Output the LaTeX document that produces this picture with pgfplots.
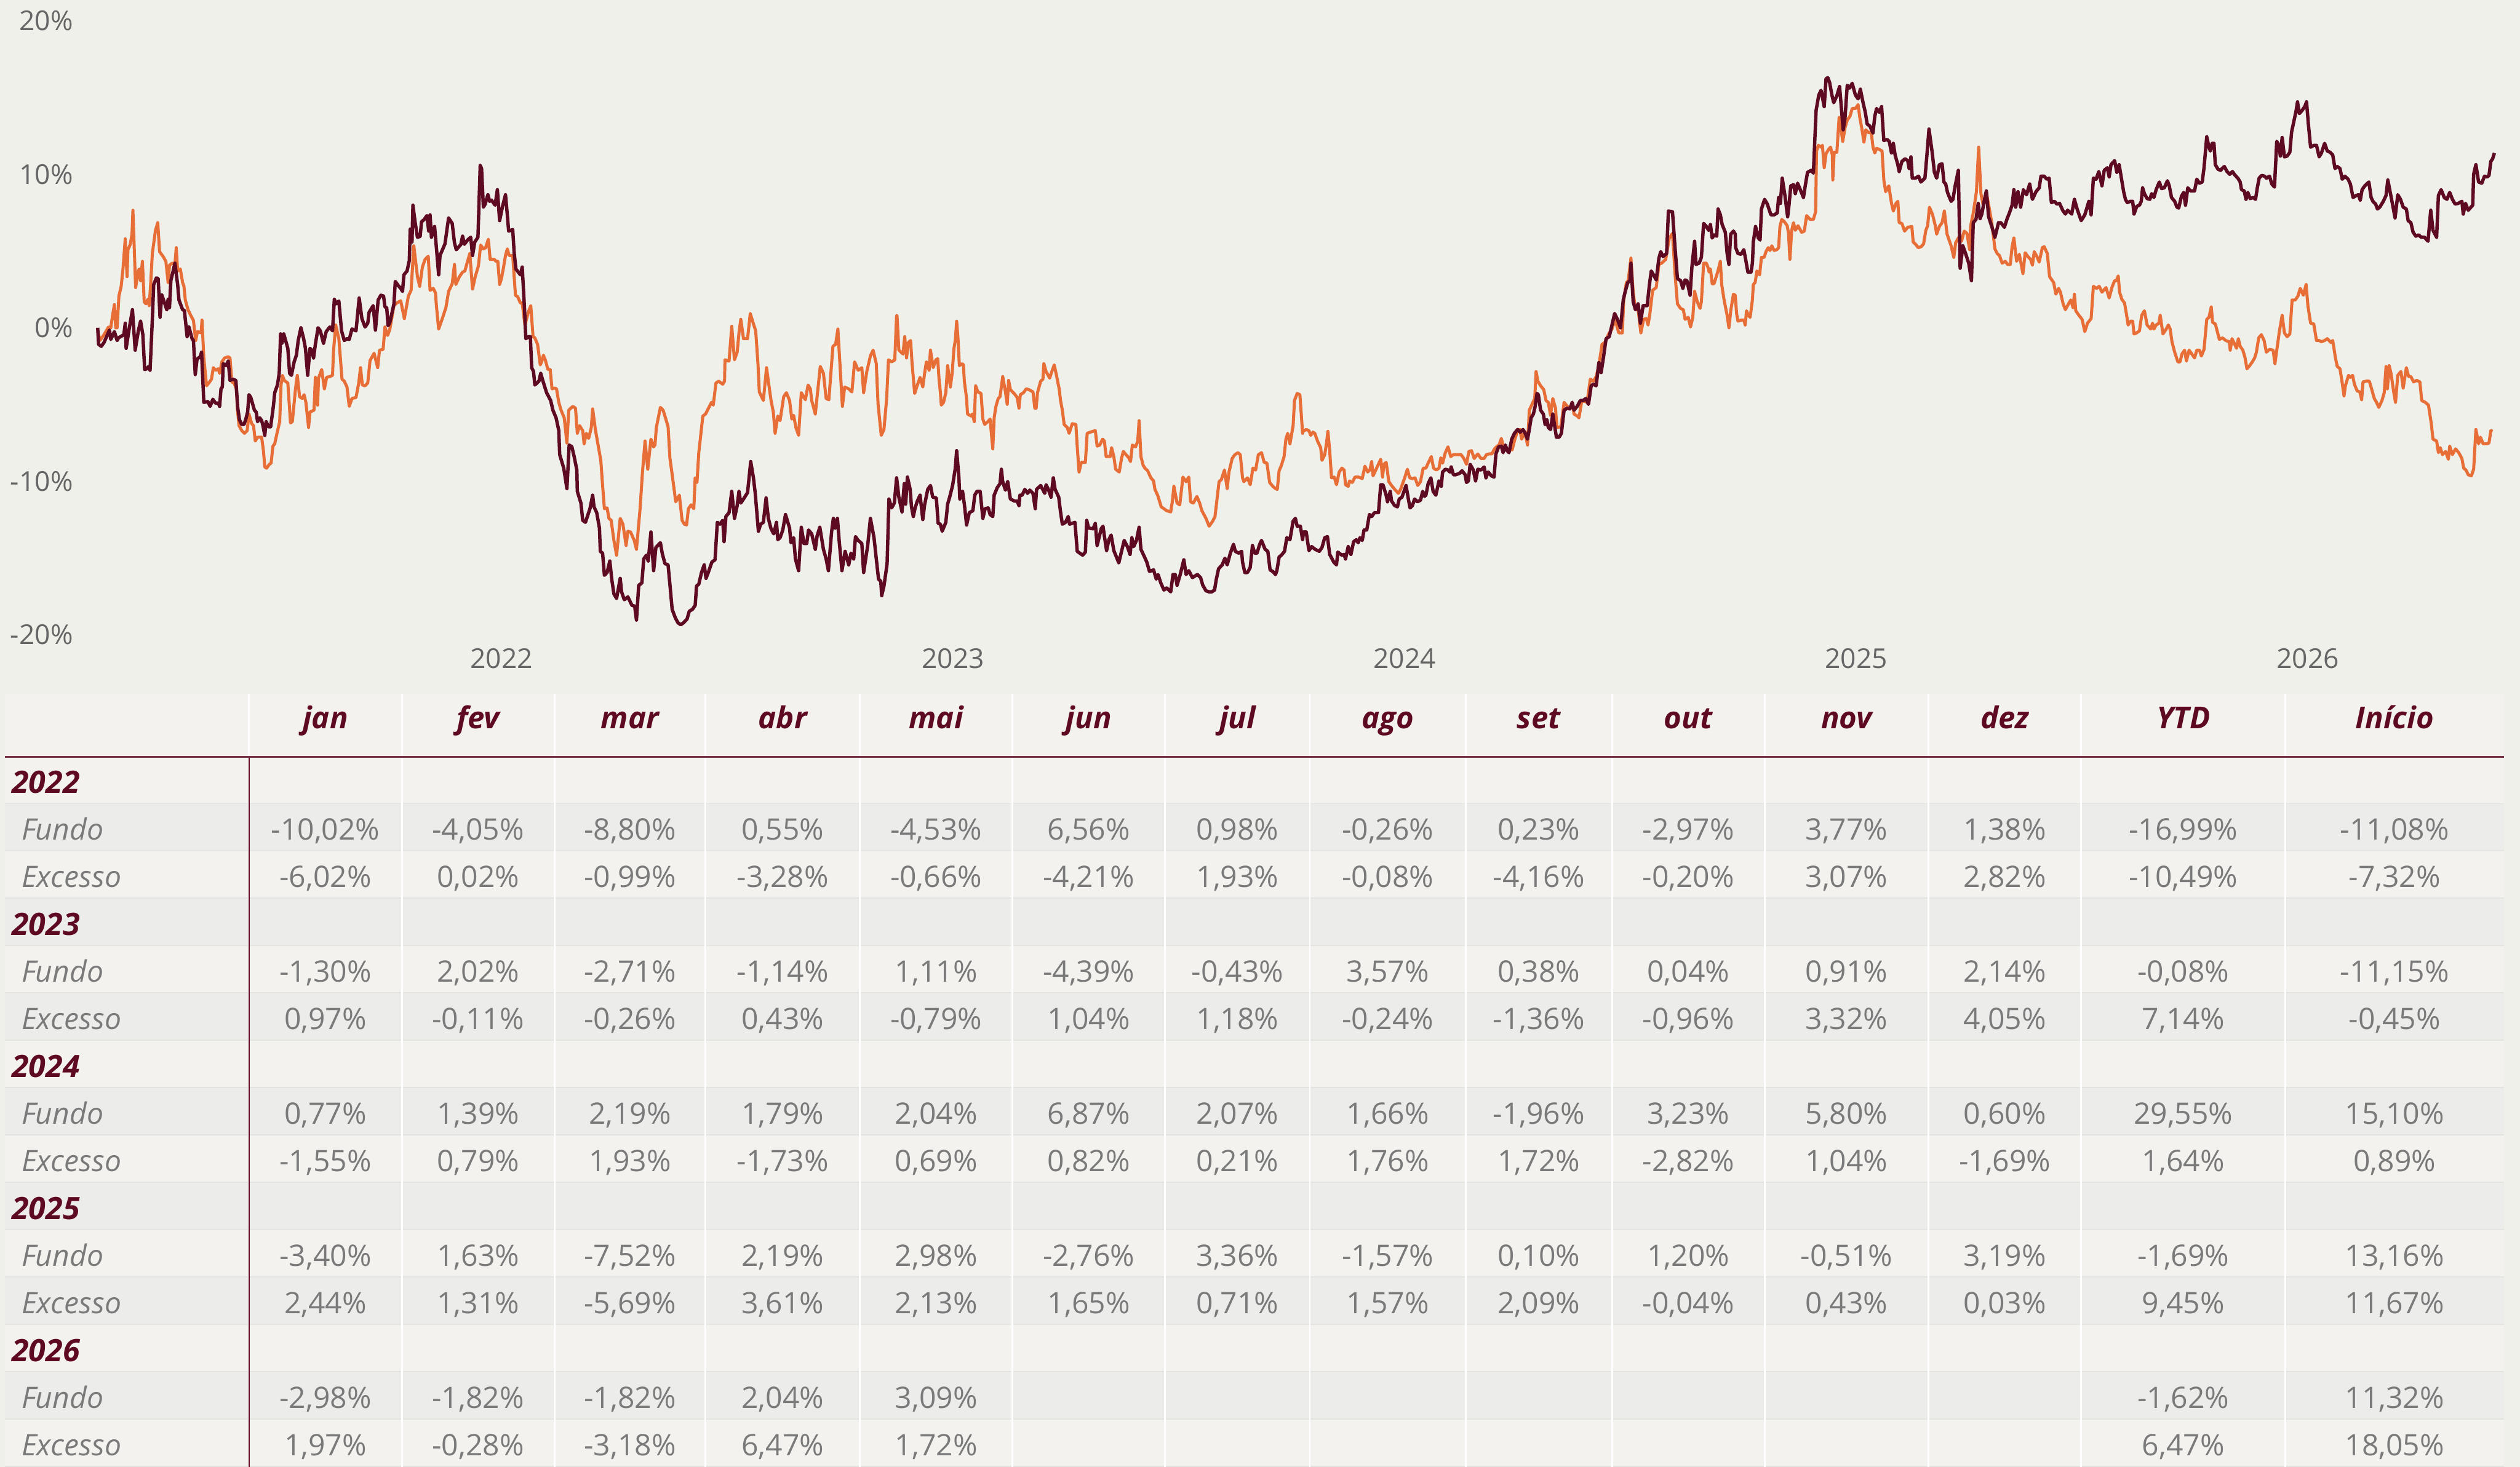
\documentclass[border=0pt]{standalone}
\usepackage{pgfplots}
\pgfplotsset{compat=1.18}
\usepackage{fontspec}
\setmainfont{Open Sans}
\definecolor{bg}{HTML}{F0F0EB}
\definecolor{lightrow}{HTML}{F3F2EE}
\definecolor{greyrow}{HTML}{ECECEB}
\definecolor{sepc}{HTML}{E3E3E0}
\definecolor{maroon}{HTML}{5E0A22}
\definecolor{orangeline}{HTML}{E86E38}
\definecolor{valgrey}{HTML}{7A7A7A}
\definecolor{tickgrey}{HTML}{666666}
\def\cols{{202.5,297.5,392,487,582.5,677.5,770,863.5,957.5,1050.5,1149,1247.5,1358.5,1490}}
\newcommand\datarow[3]{%
  \pgfmathsetmacro\yb{471+29.47*#1+14.73+7.5}%
  \node[lab] at (13,\yb) {#2};%
  \foreach \v [count=\c from 0] in {#3} {%
    \pgfmathsetmacro\xx{\cols[\c]}%
    \node[val] at (\xx,\yb) {\v};%
  }%
}
\newcommand\yearrow[2]{%
  \pgfmathsetmacro\yb{471+29.47*#1+14.73+7.8}%
  \node[yr] at (7,\yb) {#2};%
}
\begin{document}
\begin{tikzpicture}
\fill[bg] (0,0) rectangle (784pt,-456.5pt);
\begin{axis}[
  at={(23.93pt,-197.5pt)}, anchor=south west,
  scale only axis, width=757.3pt, height=191pt,
  xmin=2021.06, xmax=2026.45, ymin=-20, ymax=20,
  axis line style={draw=none}, tick style={draw=none},
  xtick={2022,2023,2024,2025,2026},
  xticklabels={2022,2023,2024,2025,2026},
  ytick={-20,-10,0,10,20},
  yticklabels={-20\%,-10\%,0\%,10\%,20\%},
  ticklabel style={font=\fontsize{8.5}{10}\selectfont, text=tickgrey},
  yticklabel style={xshift=2.3pt},
  xticklabel style={yshift=-0.8pt},
  grid=none,
]
\addplot[orangeline, line width=0.95pt, line join=round] coordinates {
(2021.106,-0.20)(2021.111,-0.83)(2021.120,-0.45)(2021.130,0.05)(2021.135,0.00)(2021.139,0.81)(2021.143,1.51)(2021.146,0.00)(2021.149,0.00)(2021.153,2.07)(2021.158,2.70)(2021.162,3.83)(2021.167,5.80)(2021.171,3.33)(2021.173,5.09)(2021.178,5.42)(2021.182,6.10)(2021.184,7.66)(2021.190,2.62)(2021.196,3.70)(2021.198,3.83)(2021.201,3.07)(2021.205,4.33)(2021.209,1.69)(2021.213,1.56)(2021.217,1.86)(2021.220,1.44)(2021.223,2.70)(2021.227,4.84)(2021.234,6.35)(2021.239,6.85)(2021.243,4.96)(2021.251,4.64)(2021.257,4.33)(2021.262,2.95)(2021.265,4.08)(2021.271,4.21)(2021.277,4.13)(2021.280,5.22)(2021.283,3.70)(2021.289,3.83)(2021.294,2.95)(2021.297,2.70)(2021.300,1.81)(2021.306,1.18)(2021.312,0.81)(2021.318,0.48)(2021.323,-0.83)(2021.327,-0.25)(2021.335,-0.33)(2021.337,0.50)(2021.341,-1.97)(2021.347,-3.78)(2021.352,-3.60)(2021.358,-3.35)(2021.362,-2.60)(2021.367,-2.77)(2021.373,-2.67)(2021.376,-2.97)(2021.381,-2.22)(2021.387,-1.97)(2021.395,-1.89)(2021.399,-1.97)(2021.403,-3.53)(2021.408,-3.60)(2021.413,-3.98)(2021.416,-5.49)(2021.419,-6.38)(2021.425,-6.70)(2021.431,-6.88)(2021.437,-6.70)(2021.441,-5.62)(2021.447,-6.25)(2021.451,-6.38)(2021.455,-7.38)(2021.460,-7.13)(2021.469,-7.13)(2021.473,-8.01)(2021.476,-9.07)(2021.480,-9.15)(2021.486,-8.90)(2021.490,-8.82)(2021.494,-7.71)(2021.498,-7.56)(2021.503,-6.88)(2021.509,-6.12)(2021.512,-3.73)(2021.515,-3.10)(2021.519,-3.43)(2021.527,-3.60)(2021.533,-6.20)(2021.537,-6.12)(2021.544,-3.98)(2021.548,-3.10)(2021.553,-4.49)(2021.559,-4.61)(2021.563,-4.36)(2021.567,-4.86)(2021.573,-6.50)(2021.576,-5.49)(2021.585,-5.37)(2021.588,-3.23)(2021.593,-5.04)(2021.595,-3.28)(2021.602,-2.72)(2021.608,-3.98)(2021.613,-3.23)(2021.620,-3.18)(2021.626,-3.10)(2021.628,-1.59)(2021.633,0.18)(2021.640,-0.71)(2021.647,-3.35)(2021.652,-3.48)(2021.658,-3.86)(2021.663,-5.12)(2021.669,-4.61)(2021.678,-4.54)(2021.684,-3.60)(2021.688,-2.60)(2021.692,-3.73)(2021.698,-3.78)(2021.704,-3.60)(2021.709,-2.14)(2021.718,-1.66)(2021.726,-2.60)(2021.730,-1.46)(2021.738,-1.41)(2021.742,0.05)(2021.748,-0.50)(2021.753,-0.08)(2021.762,1.44)(2021.768,1.61)(2021.777,1.76)(2021.785,0.60)(2021.794,2.07)(2021.800,2.44)(2021.806,5.34)(2021.814,3.33)(2021.819,2.70)(2021.825,3.96)(2021.831,4.46)(2021.838,4.66)(2021.842,2.44)(2021.849,2.57)(2021.854,2.27)(2021.856,1.44)(2021.861,-0.08)(2021.870,0.68)(2021.877,1.31)(2021.883,2.37)(2021.891,2.87)(2021.896,4.13)(2021.899,2.82)(2021.907,3.33)(2021.914,3.63)(2021.919,3.70)(2021.925,4.33)(2021.930,4.84)(2021.936,2.52)(2021.942,3.33)(2021.949,4.03)(2021.954,5.39)(2021.960,5.14)(2021.965,5.22)(2021.971,5.77)(2021.975,4.46)
(2021.977,4.46)(2021.984,4.46)(2021.988,4.33)(2021.992,4.33)(2021.996,2.82)(2022.000,3.20)(2022.004,3.83)(2022.009,4.71)(2022.013,5.14)(2022.017,4.71)(2022.025,4.71)(2022.031,2.12)(2022.036,2.02)(2022.042,1.61)(2022.046,1.61)(2022.052,0.18)(2022.060,1.06)(2022.065,1.44)(2022.070,-0.58)(2022.074,-0.66)(2022.080,-1.08)(2022.086,-2.42)(2022.089,-2.22)(2022.093,-1.79)(2022.097,-2.09)(2022.103,-2.72)(2022.108,-2.72)(2022.112,-3.98)(2022.118,-3.93)(2022.122,-3.98)(2022.127,-4.86)(2022.132,-5.37)(2022.139,-5.87)(2022.145,-7.51)(2022.149,-5.37)(2022.158,-5.12)(2022.164,-5.24)(2022.168,-6.88)(2022.173,-6.38)(2022.180,-6.70)(2022.183,-7.56)(2022.188,-6.88)(2022.193,-7.21)(2022.199,-6.50)(2022.202,-5.29)(2022.208,-6.63)(2022.214,-7.64)(2022.220,-8.64)(2022.224,-10.28)(2022.228,-11.79)(2022.234,-11.74)(2022.238,-12.42)(2022.243,-12.55)(2022.249,-13.86)(2022.255,-14.82)(2022.263,-12.42)(2022.269,-12.80)(2022.276,-14.19)(2022.280,-13.26)(2022.286,-13.31)(2022.294,-13.86)(2022.299,-14.44)(2022.307,-11.79)(2022.312,-9.53)(2022.318,-7.38)(2022.324,-9.22)(2022.331,-7.26)(2022.337,-7.76)(2022.340,-7.64)(2022.343,-6.50)(2022.352,-5.19)(2022.358,-5.37)(2022.362,-5.75)(2022.369,-6.45)(2022.373,-8.47)(2022.379,-9.78)(2022.386,-11.34)(2022.394,-10.91)(2022.400,-12.55)(2022.405,-12.80)(2022.410,-12.85)(2022.414,-11.79)(2022.420,-11.54)(2022.426,-11.79)(2022.429,-9.78)(2022.433,-10.08)(2022.437,-8.14)(2022.446,-5.75)(2022.452,-5.62)(2022.465,-4.86)(2022.469,-5.04)(2022.475,-3.60)(2022.481,-3.48)(2022.490,-3.68)(2022.494,-3.48)(2022.495,-2.09)(2022.504,-2.17)(2022.510,0.10)(2022.516,-2.09)(2022.522,-1.59)(2022.526,-0.33)(2022.530,0.55)(2022.536,-0.71)(2022.545,-0.71)(2022.551,0.93)(2022.557,0.35)(2022.563,-0.20)(2022.568,-2.34)(2022.571,-4.18)(2022.580,-4.74)(2022.587,-2.60)(2022.591,-3.48)(2022.597,-4.74)(2022.602,-5.49)(2022.606,-6.88)(2022.612,-5.75)(2022.617,-6.05)(2022.625,-4.49)(2022.631,-4.23)(2022.638,-4.74)(2022.643,-5.95)(2022.647,-5.70)(2022.652,-6.50)(2022.658,-7.01)(2022.664,-4.23)(2022.673,-4.69)(2022.679,-3.73)(2022.684,-3.98)(2022.687,-4.74)(2022.695,-5.62)(2022.699,-4.49)(2022.706,-2.52)(2022.713,-2.97)(2022.719,-4.61)(2022.725,-4.69)(2022.734,-1.21)(2022.740,-1.08)(2022.745,-0.08)(2022.755,-5.12)(2022.760,-3.86)(2022.769,-3.98)(2022.776,-4.18)(2022.782,-2.22)(2022.790,-2.77)(2022.798,-2.60)(2022.802,-4.23)(2022.809,-2.85)(2022.817,-1.84)(2022.823,-1.46)(2022.830,-2.34)(2022.834,-4.99)(2022.841,-7.01)(2022.847,-6.63)(2022.853,-4.61)(2022.857,-2.09)(2022.864,-2.22)(2022.871,-2.09)(2022.875,0.81)
(2022.876,0.76)(2022.880,-1.46)(2022.889,-1.71)(2022.893,-0.58)(2022.897,-1.97)(2022.901,-0.96)(2022.906,-0.83)(2022.909,-2.22)(2022.915,-4.28)(2022.921,-3.73)(2022.927,-3.23)(2022.933,-3.86)(2022.937,-2.97)(2022.941,-2.22)(2022.947,-2.77)(2022.950,-1.46)(2022.956,-2.60)(2022.962,-2.09)(2022.966,-2.02)(2022.969,-3.35)(2022.972,-4.23)(2022.974,-5.04)(2022.979,-4.86)(2022.984,-4.23)(2022.988,-2.47)(2022.994,-3.86)(2022.998,-2.97)(2023.002,-1.34)(2023.005,-0.83)(2023.008,0.43)(2023.011,-0.71)(2023.014,-2.47)(2023.020,-2.34)(2023.023,-2.42)(2023.025,-3.48)(2023.030,-4.61)(2023.032,-5.62)(2023.040,-5.75)(2023.043,-5.62)(2023.047,-6.12)(2023.050,-3.78)(2023.055,-4.18)(2023.062,-4.28)(2023.066,-5.95)(2023.070,-6.30)(2023.077,-6.12)(2023.082,-5.95)(2023.088,-7.89)(2023.091,-5.87)(2023.095,-5.12)(2023.100,-4.61)(2023.104,-4.49)(2023.110,-3.18)(2023.116,-4.18)(2023.120,-4.99)(2023.123,-3.43)(2023.127,-4.03)(2023.136,-4.31)(2023.142,-4.54)(2023.146,-5.24)(2023.149,-4.36)(2023.156,-4.23)(2023.162,-3.98)(2023.168,-4.03)(2023.177,-4.18)(2023.181,-5.24)(2023.184,-5.24)(2023.187,-4.23)(2023.194,-3.48)(2023.199,-3.35)(2023.201,-2.34)(2023.206,-2.85)(2023.214,-3.28)(2023.218,-2.92)(2023.224,-2.42)(2023.229,-3.10)(2023.235,-3.98)(2023.238,-4.74)(2023.242,-5.37)(2023.246,-6.30)(2023.253,-6.50)(2023.257,-6.88)(2023.264,-6.25)(2023.272,-6.30)(2023.275,-7.76)(2023.279,-9.40)(2023.284,-8.77)(2023.293,-8.77)(2023.297,-6.88)(2023.304,-6.80)(2023.315,-6.70)(2023.319,-7.71)(2023.325,-7.64)(2023.331,-7.26)(2023.335,-7.38)(2023.339,-8.39)(2023.348,-8.39)(2023.351,-7.81)(2023.356,-8.39)(2023.360,-9.22)(2023.368,-9.40)(2023.373,-8.52)(2023.377,-8.06)(2023.383,-8.27)(2023.389,-8.47)(2023.393,-8.72)(2023.397,-7.64)(2023.404,-7.76)(2023.409,-7.38)(2023.412,-6.05)(2023.416,-8.39)(2023.421,-8.97)(2023.425,-9.15)(2023.431,-9.32)(2023.438,-9.78)(2023.444,-9.98)(2023.447,-10.53)(2023.453,-10.91)(2023.461,-11.67)(2023.467,-11.79)(2023.473,-11.92)(2023.482,-12.00)(2023.486,-11.24)(2023.489,-10.33)(2023.496,-11.42)(2023.502,-11.54)(2023.509,-9.73)(2023.516,-10.03)(2023.522,-9.73)(2023.526,-11.34)(2023.532,-11.42)(2023.540,-10.99)(2023.546,-11.42)(2023.551,-11.92)(2023.560,-12.42)(2023.567,-12.93)(2023.575,-12.60)(2023.580,-12.30)(2023.585,-11.04)(2023.589,-10.03)(2023.594,-9.90)(2023.601,-9.27)(2023.607,-10.48)(2023.611,-9.40)(2023.618,-8.52)(2023.624,-8.27)(2023.631,-8.14)(2023.636,-8.27)(2023.641,-9.78)(2023.644,-10.03)(2023.652,-9.78)(2023.658,-10.23)(2023.664,-9.15)(2023.670,-9.27)(2023.676,-8.27)(2023.683,-8.14)(2023.689,-8.77)(2023.695,-8.82)(2023.701,-10.08)(2023.708,-10.33)(2023.714,-10.48)(2023.718,-10.53)(2023.722,-9.32)(2023.727,-8.97)(2023.733,-8.39)(2023.737,-7.26)(2023.741,-6.88)(2023.746,-7.56)(2023.753,-6.38)(2023.756,-4.74)(2023.762,-4.28)(2023.768,-4.36)(2023.774,-6.88)
(2023.775,-6.75)(2023.782,-6.63)(2023.788,-6.70)(2023.792,-7.01)(2023.797,-6.80)(2023.801,-6.88)(2023.807,-7.38)(2023.814,-7.81)(2023.817,-8.64)(2023.823,-8.27)(2023.827,-7.51)(2023.830,-6.75)(2023.834,-8.01)(2023.838,-9.78)(2023.844,-9.73)(2023.849,-10.23)(2023.855,-9.40)(2023.861,-9.15)(2023.866,-9.27)(2023.869,-10.23)(2023.875,-10.33)(2023.878,-9.98)(2023.884,-10.08)(2023.890,-9.73)(2023.898,-9.73)(2023.906,-9.83)(2023.912,-9.02)(2023.918,-9.40)(2023.923,-9.27)(2023.927,-8.72)(2023.930,-9.65)(2023.936,-9.27)(2023.947,-8.57)(2023.951,-9.73)(2023.954,-8.90)(2023.959,-8.77)(2023.965,-10.03)(2023.971,-10.28)(2023.978,-10.53)(2023.986,-10.79)(2023.991,-10.53)(2024.000,-9.78)(2024.006,-9.22)(2024.011,-9.78)(2024.017,-9.83)(2024.023,-9.78)(2024.029,-10.28)(2024.035,-10.03)(2024.041,-9.15)(2024.047,-9.15)(2024.052,-8.82)(2024.059,-8.39)(2024.064,-9.15)(2024.070,-9.27)(2024.076,-9.15)(2024.080,-8.47)(2024.084,-8.82)(2024.090,-8.14)(2024.096,-7.76)(2024.102,-8.39)(2024.108,-8.27)(2024.116,-8.27)(2024.125,-8.27)(2024.131,-8.52)(2024.137,-8.90)(2024.142,-8.06)(2024.148,-8.01)(2024.154,-8.52)(2024.162,-8.22)(2024.169,-8.52)(2024.176,-8.52)(2024.181,-8.27)(2024.187,-8.22)(2024.193,-8.22)(2024.199,-7.89)(2024.205,-7.71)(2024.209,-7.64)(2024.214,-7.21)(2024.220,-7.89)(2024.227,-8.01)(2024.232,-7.89)(2024.238,-7.96)(2024.244,-7.26)(2024.250,-6.70)(2024.255,-6.63)(2024.259,-7.26)(2024.266,-6.75)(2024.272,-7.64)(2024.276,-5.37)(2024.282,-4.99)(2024.288,-4.61)(2024.291,-2.85)(2024.295,-3.48)(2024.301,-3.78)(2024.308,-4.03)(2024.313,-4.74)(2024.318,-4.86)(2024.323,-5.70)(2024.328,-4.61)(2024.334,-5.24)(2024.337,-6.50)(2024.346,-6.45)(2024.353,-4.86)(2024.360,-5.12)(2024.366,-5.24)(2024.371,-4.86)(2024.375,-5.62)(2024.382,-5.75)(2024.386,-5.87)(2024.392,-4.79)(2024.398,-4.79)(2024.404,-4.86)(2024.411,-3.35)(2024.418,-3.48)(2024.424,-3.18)(2024.430,-2.47)(2024.437,-1.08)(2024.443,-0.96)(2024.449,-0.58)(2024.453,-0.33)(2024.459,-0.08)(2024.466,0.55)(2024.474,-0.33)(2024.482,-0.33)(2024.485,1.81)(2024.491,2.95)(2024.495,3.07)(2024.501,4.54)(2024.506,2.32)(2024.511,1.18)(2024.517,1.18)(2024.523,-0.33)(2024.529,0.55)(2024.535,0.60)(2024.539,0.18)(2024.543,0.93)(2024.549,2.44)(2024.557,2.62)(2024.563,4.13)(2024.569,4.21)(2024.578,4.46)(2024.586,5.85)(2024.593,6.15)(2024.599,3.38)(2024.604,1.56)(2024.611,1.26)(2024.617,1.18)(2024.621,0.55)(2024.628,0.68)(2024.633,0.05)(2024.638,0.68)(2024.642,2.37)(2024.648,1.69)(2024.654,1.26)(2024.657,1.69)(2024.662,4.21)(2024.668,4.21)(2024.673,3.83)
(2024.674,3.63)(2024.677,3.83)(2024.681,2.87)(2024.685,2.87)(2024.693,3.63)(2024.699,4.33)(2024.702,2.82)(2024.707,1.86)(2024.714,0.81)(2024.718,0.00)(2024.722,1.11)(2024.728,2.19)(2024.732,2.12)(2024.735,0.93)(2024.738,0.43)(2024.745,0.50)(2024.751,0.50)(2024.754,0.18)(2024.757,1.11)(2024.761,0.81)(2024.765,0.68)(2024.770,1.81)(2024.772,2.82)(2024.776,2.95)(2024.780,3.70)(2024.786,3.45)(2024.790,4.59)(2024.796,4.59)(2024.800,4.96)(2024.805,5.22)(2024.809,5.04)(2024.813,5.34)(2024.818,5.04)(2024.824,5.09)(2024.828,5.22)(2024.831,6.60)(2024.835,7.06)(2024.841,6.90)(2024.847,6.65)(2024.850,6.15)(2024.853,4.46)(2024.857,6.35)(2024.861,6.85)(2024.865,6.35)(2024.871,6.65)(2024.879,6.22)(2024.885,6.30)(2024.890,7.31)(2024.898,7.06)(2024.905,7.06)(2024.910,7.56)(2024.912,11.52)(2024.916,11.89)(2024.922,11.77)(2024.925,11.89)(2024.929,10.43)(2024.933,11.34)(2024.939,11.64)(2024.943,11.77)(2024.947,11.26)(2024.948,9.63)(2024.951,11.44)(2024.957,11.44)(2024.962,13.71)(2024.966,13.03)(2024.970,12.15)(2024.975,13.03)(2024.980,13.53)(2024.986,13.78)(2024.991,14.29)(2024.998,14.29)(2025.004,14.54)(2025.008,13.66)(2025.012,13.03)(2025.017,12.10)(2025.021,12.90)(2025.028,12.70)(2025.033,12.78)(2025.037,11.77)(2025.041,11.39)(2025.045,11.69)(2025.050,11.64)(2025.057,11.52)(2025.061,9.63)(2025.065,8.87)(2025.072,9.25)(2025.078,8.11)(2025.082,7.61)(2025.088,8.11)(2025.092,8.24)(2025.095,6.85)(2025.101,6.80)(2025.107,6.30)(2025.114,6.55)(2025.123,6.60)(2025.126,5.59)(2025.133,5.39)(2025.137,5.22)(2025.144,5.29)(2025.149,5.47)(2025.154,6.35)(2025.158,6.65)(2025.162,7.86)(2025.169,7.36)(2025.175,6.65)(2025.178,6.10)(2025.184,6.60)(2025.190,6.85)(2025.195,7.61)(2025.201,6.10)(2025.210,5.34)(2025.216,4.59)(2025.220,5.54)(2025.227,5.90)(2025.233,5.64)(2025.239,6.30)(2025.245,6.15)(2025.251,5.09)(2025.253,6.60)(2025.259,7.48)(2025.266,8.87)(2025.271,11.77)(2025.276,8.74)(2025.281,7.99)(2025.288,8.82)(2025.294,7.86)(2025.300,6.85)(2025.307,5.14)(2025.312,4.84)(2025.317,4.71)(2025.323,4.21)(2025.330,4.33)(2025.335,4.13)(2025.341,4.13)(2025.345,5.29)(2025.349,5.85)(2025.355,4.33)(2025.361,4.79)(2025.369,3.53)(2025.374,4.89)(2025.380,4.64)(2025.386,4.46)(2025.390,4.08)(2025.394,4.96)(2025.400,4.64)(2025.405,4.28)(2025.412,5.22)(2025.416,5.29)(2025.423,4.84)(2025.428,3.33)(2025.437,2.95)(2025.442,2.19)(2025.448,2.57)(2025.452,2.32)(2025.458,1.56)(2025.463,1.18)(2025.470,1.56)(2025.475,1.81)(2025.480,1.31)(2025.483,2.19)(2025.486,1.11)(2025.493,0.81)(2025.500,0.55)(2025.506,-0.25)(2025.512,0.30)(2025.520,0.60)(2025.525,2.70)(2025.532,2.57)(2025.538,2.70)(2025.544,2.32)(2025.553,2.62)(2025.560,1.94)(2025.566,2.62)(2025.572,3.07)
(2025.576,3.07)(2025.580,3.38)(2025.583,2.32)(2025.588,1.86)(2025.594,1.61)(2025.598,0.93)(2025.602,0.18)(2025.607,0.43)(2025.612,0.43)(2025.615,-0.40)(2025.621,-0.33)(2025.627,-0.20)(2025.632,0.81)(2025.638,1.11)(2025.644,0.18)(2025.652,-0.08)(2025.656,0.30)(2025.659,-0.08)(2025.664,0.18)(2025.670,0.30)(2025.673,0.81)(2025.679,-0.40)(2025.685,-0.15)(2025.691,0.18)(2025.695,-0.08)(2025.699,-0.91)(2025.705,-1.59)(2025.712,-2.22)(2025.717,-2.22)(2025.721,-1.71)(2025.727,-1.46)(2025.731,-2.17)(2025.737,-1.46)(2025.743,-1.71)(2025.749,-1.97)(2025.754,-1.46)(2025.760,-1.46)(2025.764,-1.84)(2025.770,-1.41)(2025.776,0.55)(2025.781,0.68)(2025.786,1.36)(2025.789,0.35)(2025.795,0.25)(2025.799,-0.20)(2025.804,-0.76)(2025.811,-0.66)(2025.818,-0.83)(2025.826,-0.91)(2025.828,-1.46)(2025.832,-0.71)(2025.838,-1.08)(2025.842,-1.34)(2025.846,-0.71)(2025.850,-1.21)(2025.856,-1.46)(2025.861,-1.97)(2025.865,-2.67)(2025.871,-2.47)(2025.877,-2.22)(2025.882,-1.97)(2025.886,-1.59)(2025.891,-0.66)(2025.897,-0.45)(2025.903,-0.83)(2025.908,-1.59)(2025.915,-1.41)(2025.923,-1.46)(2025.927,-2.34)(2025.932,-1.26)(2025.937,-0.20)(2025.943,0.81)(2025.948,-0.33)(2025.954,-0.58)(2025.960,-0.40)(2025.965,1.81)(2025.972,1.81)(2025.978,2.07)(2025.983,2.57)(2025.990,2.12)(2025.996,2.82)(2026.000,1.44)(2026.006,0.30)(2026.013,0.25)(2026.019,-0.83)(2026.025,-0.83)(2026.030,-0.91)(2026.037,-0.83)(2026.043,-0.71)(2026.051,-0.96)(2026.055,-0.83)(2026.061,-1.97)(2026.065,-2.52)(2026.071,-2.67)(2026.076,-3.60)(2026.080,-4.44)(2026.083,-3.78)(2026.090,-3.10)(2026.094,-3.23)(2026.099,-3.10)(2026.103,-3.68)(2026.109,-4.11)(2026.115,-4.18)(2026.119,-4.69)(2026.122,-3.53)(2026.129,-3.48)(2026.136,-3.48)(2026.141,-3.98)(2026.147,-4.61)(2026.152,-4.86)(2026.157,-5.19)(2026.164,-4.74)(2026.169,-4.23)(2026.173,-2.52)(2026.176,-3.98)(2026.180,-2.47)(2026.184,-2.97)(2026.190,-4.18)(2026.194,-4.86)(2026.199,-3.10)(2026.206,-2.85)(2026.211,-3.93)(2026.218,-2.60)(2026.223,-3.18)(2026.228,-3.18)(2026.234,-3.53)(2026.241,-3.43)(2026.248,-3.53)(2026.252,-4.74)(2026.260,-4.86)(2026.267,-5.04)(2026.273,-6.20)(2026.277,-7.26)(2026.285,-7.38)(2026.289,-8.14)(2026.293,-7.81)(2026.298,-8.27)(2026.305,-8.06)(2026.311,-8.57)(2026.314,-7.71)(2026.320,-8.27)(2026.327,-7.89)(2026.334,-8.14)(2026.341,-8.52)(2026.345,-9.15)(2026.350,-9.27)(2026.355,-9.58)(2026.362,-9.65)(2026.367,-9.22)(2026.372,-6.63)(2026.378,-7.56)(2026.382,-7.13)(2026.388,-7.56)(2026.395,-7.56)(2026.401,-7.51)(2026.405,-6.70)(2026.409,-6.75)
};
\addplot[maroon, line width=1.05pt, line join=round] coordinates {
(2021.106,0.00)(2021.108,-1.08)(2021.114,-1.21)(2021.120,-0.96)(2021.132,-0.15)(2021.135,-0.76)(2021.143,-0.25)(2021.149,-0.83)(2021.152,-0.66)(2021.164,-0.45)(2021.167,0.30)(2021.169,-1.34)(2021.175,-0.20)(2021.183,1.18)(2021.189,-1.46)(2021.196,-0.20)(2021.201,0.43)(2021.206,-0.45)(2021.210,-2.72)(2021.215,-2.67)(2021.219,-2.52)(2021.222,-2.77)(2021.227,0.55)(2021.230,2.82)(2021.236,3.25)(2021.240,3.20)(2021.244,0.68)(2021.248,2.14)(2021.259,1.18)(2021.262,1.86)(2021.265,1.31)(2021.268,3.07)(2021.277,4.21)(2021.283,2.82)(2021.286,1.81)(2021.294,1.18)(2021.298,1.13)(2021.304,-0.58)(2021.308,0.05)(2021.315,-0.71)(2021.318,-0.83)(2021.322,-3.05)(2021.326,-2.04)(2021.333,-1.89)(2021.336,-1.59)(2021.341,-4.86)(2021.350,-4.81)(2021.355,-5.12)(2021.361,-4.66)(2021.367,-4.91)(2021.373,-4.91)(2021.376,-5.12)(2021.379,-3.98)(2021.382,-3.86)(2021.384,-2.34)(2021.390,-2.47)(2021.395,-2.17)(2021.399,-3.43)(2021.405,-3.35)(2021.412,-3.43)(2021.416,-5.19)(2021.420,-6.00)(2021.425,-6.30)(2021.430,-6.30)(2021.434,-5.95)(2021.438,-5.49)(2021.441,-4.36)(2021.445,-4.54)(2021.453,-5.37)(2021.457,-5.49)(2021.460,-6.12)(2021.465,-5.87)(2021.469,-6.05)(2021.472,-6.38)(2021.476,-7.01)(2021.479,-6.12)(2021.484,-6.45)(2021.489,-6.45)(2021.495,-5.12)(2021.498,-4.23)(2021.504,-3.73)(2021.508,-2.97)(2021.511,-0.40)(2021.514,-1.01)(2021.518,-0.40)(2021.527,-1.34)(2021.531,-2.97)(2021.535,-3.10)(2021.541,-2.22)(2021.546,-1.79)(2021.550,-0.83)(2021.556,0.00)(2021.562,-0.71)(2021.566,-1.34)(2021.571,-3.10)(2021.576,-1.34)(2021.580,-1.46)(2021.584,-1.97)(2021.588,-1.08)(2021.594,0.00)(2021.599,-0.20)(2021.606,-1.01)(2021.612,-0.25)(2021.620,0.05)(2021.626,-0.20)(2021.630,1.86)(2021.634,1.56)(2021.640,1.74)(2021.646,-0.20)(2021.652,-0.83)(2021.658,-0.71)(2021.663,-0.76)(2021.669,-0.08)(2021.678,-0.20)(2021.685,1.94)(2021.691,0.60)(2021.698,0.05)(2021.704,0.30)(2021.707,1.01)(2021.716,1.44)(2021.721,-0.15)(2021.727,1.81)(2021.733,2.12)(2021.739,2.07)(2021.742,1.36)(2021.746,1.31)(2021.749,0.13)(2021.753,0.35)(2021.762,1.56)(2021.765,3.02)(2021.771,2.77)(2021.777,2.57)(2021.781,2.37)(2021.784,3.45)(2021.791,3.70)(2021.796,4.38)(2021.798,6.43)(2021.802,5.59)(2021.804,7.99)(2021.809,6.85)(2021.814,5.90)(2021.820,5.95)(2021.823,6.90)(2021.829,7.06)(2021.835,7.31)(2021.839,6.30)(2021.842,7.36)(2021.845,5.90)(2021.852,6.60)(2021.856,5.22)(2021.861,3.45)(2021.864,4.71)(2021.875,5.47)(2021.883,7.16)(2021.891,6.80)(2021.896,5.54)(2021.900,5.09)(2021.910,5.42)(2021.914,5.97)(2021.918,5.44)(2021.925,5.72)(2021.932,5.90)(2021.936,4.71)(2021.941,5.59)(2021.948,5.90)(2021.953,10.58)(2021.956,10.38)(2021.960,7.86)(2021.964,8.06)(2021.970,8.67)(2021.974,8.24)
(2021.978,8.32)(2021.986,7.99)(2021.991,9.00)(2021.996,6.98)(2022.002,7.86)(2022.009,8.67)(2022.013,7.36)(2022.016,6.30)(2022.025,6.40)(2022.028,4.96)(2022.032,3.83)(2022.042,3.45)(2022.046,3.96)(2022.051,1.31)(2022.054,-0.71)(2022.060,-0.58)(2022.064,-0.58)(2022.067,-2.60)(2022.071,-2.85)(2022.074,-3.73)(2022.083,-3.48)(2022.087,-2.97)(2022.092,-3.48)(2022.100,-4.23)(2022.109,-4.74)(2022.114,-5.37)(2022.121,-5.87)(2022.127,-6.70)(2022.129,-8.27)(2022.138,-9.15)(2022.145,-10.48)(2022.150,-7.64)(2022.156,-7.76)(2022.161,-8.39)(2022.167,-9.27)(2022.168,-10.66)(2022.176,-11.42)(2022.180,-12.55)(2022.186,-12.68)(2022.196,-11.79)(2022.202,-10.91)(2022.205,-11.67)(2022.211,-12.05)(2022.217,-13.05)(2022.219,-14.57)(2022.224,-14.69)(2022.228,-16.13)(2022.234,-15.95)(2022.240,-15.20)(2022.244,-16.33)(2022.249,-17.34)(2022.255,-17.64)(2022.263,-16.33)(2022.266,-17.21)(2022.272,-17.72)(2022.280,-17.54)(2022.289,-18.09)(2022.295,-18.14)(2022.299,-19.05)(2022.304,-16.78)(2022.311,-16.63)(2022.315,-15.07)(2022.321,-14.82)(2022.325,-15.20)(2022.331,-13.31)(2022.337,-15.83)(2022.342,-14.31)(2022.352,-14.01)(2022.356,-14.69)(2022.362,-15.37)(2022.369,-15.45)(2022.373,-16.71)(2022.378,-18.35)(2022.385,-18.90)(2022.391,-19.23)(2022.397,-19.35)(2022.403,-19.23)(2022.411,-18.98)(2022.416,-18.47)(2022.423,-18.35)(2022.429,-18.09)(2022.432,-16.83)(2022.437,-16.71)(2022.443,-15.95)(2022.449,-15.45)(2022.453,-16.33)(2022.458,-15.95)(2022.466,-15.27)(2022.473,-15.12)(2022.478,-12.68)(2022.484,-12.80)(2022.490,-12.55)(2022.493,-13.94)(2022.497,-12.30)(2022.504,-12.05)(2022.510,-10.66)(2022.516,-12.42)(2022.522,-11.59)(2022.526,-10.66)(2022.530,-11.42)(2022.536,-11.16)(2022.545,-10.74)(2022.552,-8.72)(2022.558,-9.78)(2022.562,-10.79)(2022.569,-13.26)(2022.574,-12.80)(2022.580,-12.68)(2022.586,-11.09)(2022.591,-12.42)(2022.597,-13.10)(2022.603,-13.43)(2022.609,-12.68)(2022.612,-13.81)(2022.617,-13.68)(2022.623,-13.18)(2022.629,-12.17)(2022.638,-13.05)(2022.641,-14.01)(2022.647,-13.68)(2022.651,-15.07)(2022.658,-15.83)(2022.664,-13.00)(2022.670,-14.06)(2022.676,-14.06)(2022.680,-13.18)(2022.687,-13.43)(2022.695,-14.44)(2022.699,-13.56)(2022.705,-13.00)(2022.713,-14.44)(2022.719,-15.07)(2022.724,-15.83)(2022.731,-13.31)(2022.735,-12.42)(2022.739,-13.05)(2022.744,-12.42)(2022.748,-13.94)(2022.754,-15.83)(2022.761,-14.57)(2022.769,-15.45)(2022.774,-14.69)(2022.780,-15.07)(2022.784,-13.61)(2022.790,-13.86)(2022.798,-14.06)(2022.802,-15.95)(2022.811,-14.19)(2022.817,-12.42)(2022.821,-13.05)(2022.825,-13.68)(2022.831,-15.32)(2022.835,-16.38)(2022.840,-16.53)(2022.842,-17.46)(2022.847,-16.83)(2022.854,-15.37)(2022.858,-11.16)(2022.864,-11.74)(2022.870,-11.42)(2022.875,-9.78)
(2022.880,-11.04)(2022.887,-12.00)(2022.892,-10.16)(2022.895,-11.49)(2022.899,-9.73)(2022.905,-10.53)(2022.908,-11.67)(2022.912,-12.30)(2022.916,-11.74)(2022.921,-11.29)(2022.927,-10.91)(2022.933,-12.50)(2022.937,-11.54)(2022.944,-10.53)(2022.950,-10.28)(2022.955,-11.04)(2022.963,-11.09)(2022.967,-12.75)(2022.972,-12.80)(2022.976,-13.26)(2022.984,-12.68)(2022.988,-11.49)(2022.992,-11.09)(2022.999,-10.28)(2023.005,-9.15)(2023.008,-8.01)(2023.013,-9.78)(2023.015,-11.16)(2023.021,-10.66)(2023.025,-11.49)(2023.030,-12.85)(2023.036,-12.05)(2023.044,-11.92)(2023.048,-10.91)(2023.053,-10.66)(2023.060,-10.66)(2023.066,-12.42)(2023.071,-11.79)(2023.078,-11.74)(2023.082,-12.17)(2023.088,-12.30)(2023.091,-10.91)(2023.098,-10.41)(2023.104,-10.16)(2023.107,-9.22)(2023.110,-10.03)(2023.116,-10.58)(2023.121,-10.03)(2023.127,-11.16)(2023.136,-11.29)(2023.142,-11.29)(2023.146,-11.59)(2023.148,-10.91)(2023.153,-10.91)(2023.159,-10.53)(2023.165,-10.79)(2023.170,-10.58)(2023.177,-10.79)(2023.182,-11.79)(2023.185,-10.53)(2023.194,-10.28)(2023.203,-10.79)(2023.206,-10.23)(2023.211,-10.53)(2023.217,-11.04)(2023.222,-9.78)(2023.226,-10.53)(2023.234,-11.04)(2023.238,-12.00)(2023.242,-12.80)(2023.249,-12.68)(2023.255,-12.30)(2023.258,-12.80)(2023.270,-12.68)(2023.275,-14.57)(2023.287,-14.82)(2023.293,-14.62)(2023.296,-12.55)(2023.300,-13.05)(2023.310,-13.10)(2023.315,-12.75)(2023.319,-14.19)(2023.328,-13.10)(2023.332,-12.93)(2023.335,-13.56)(2023.340,-14.52)(2023.345,-13.81)(2023.350,-13.51)(2023.356,-14.52)(2023.367,-15.32)(2023.371,-14.82)(2023.379,-13.86)(2023.386,-14.26)(2023.392,-14.77)(2023.396,-13.68)(2023.400,-14.26)(2023.406,-13.86)(2023.412,-13.00)(2023.416,-14.44)(2023.424,-14.94)(2023.429,-15.27)(2023.435,-15.88)(2023.444,-15.78)(2023.450,-16.38)(2023.454,-16.08)(2023.460,-16.63)(2023.467,-17.09)(2023.473,-16.96)(2023.482,-17.21)(2023.487,-16.08)(2023.492,-16.08)(2023.496,-16.78)(2023.503,-16.08)(2023.511,-15.12)(2023.516,-16.08)(2023.522,-15.83)(2023.530,-16.28)(2023.541,-16.08)(2023.548,-16.28)(2023.553,-16.78)(2023.560,-17.14)(2023.567,-17.21)(2023.573,-17.21)(2023.579,-17.09)(2023.583,-16.38)(2023.588,-15.70)(2023.596,-15.45)(2023.602,-15.02)(2023.607,-15.45)(2023.614,-14.69)(2023.621,-14.11)(2023.625,-14.57)(2023.633,-14.69)(2023.639,-14.57)(2023.641,-15.27)(2023.646,-15.95)(2023.652,-15.95)(2023.658,-15.62)(2023.663,-14.19)(2023.668,-14.69)(2023.673,-14.69)(2023.679,-14.11)(2023.683,-13.86)(2023.691,-14.44)(2023.697,-14.57)(2023.702,-15.78)(2023.708,-15.88)(2023.714,-16.08)(2023.717,-15.83)(2023.722,-14.94)(2023.727,-14.82)(2023.734,-14.57)(2023.739,-13.68)(2023.746,-13.81)(2023.753,-12.60)(2023.758,-12.42)(2023.762,-12.93)(2023.769,-12.93)(2023.774,-13.81)
(2023.776,-13.31)(2023.782,-13.31)(2023.788,-14.52)(2023.794,-14.26)(2023.802,-14.44)(2023.811,-14.57)(2023.817,-14.31)(2023.823,-13.68)(2023.829,-13.61)(2023.834,-14.77)(2023.843,-15.27)(2023.849,-15.45)(2023.852,-14.62)(2023.861,-14.82)(2023.866,-14.77)(2023.869,-15.07)(2023.875,-14.26)(2023.881,-14.77)(2023.887,-13.94)(2023.893,-13.81)(2023.897,-14.01)(2023.901,-13.68)(2023.906,-13.86)(2023.910,-13.18)(2023.916,-13.18)(2023.922,-12.17)(2023.927,-12.30)(2023.933,-12.05)(2023.942,-12.05)(2023.947,-10.23)(2023.952,-10.23)(2023.959,-10.91)(2023.962,-11.34)(2023.968,-10.66)(2023.971,-11.29)(2023.978,-11.59)(2023.984,-11.67)(2023.988,-11.16)(2023.994,-11.04)(2024.003,-10.28)(2024.009,-11.29)(2024.012,-11.74)(2024.017,-11.59)(2024.022,-11.16)(2024.028,-11.34)(2024.035,-11.24)(2024.040,-10.66)(2024.044,-10.99)(2024.047,-10.91)(2024.052,-10.16)(2024.058,-9.78)(2024.063,-10.66)(2024.069,-10.91)(2024.076,-9.98)(2024.081,-10.33)(2024.084,-9.40)(2024.090,-9.22)(2024.096,-9.27)(2024.100,-9.40)(2024.103,-9.07)(2024.108,-9.58)(2024.113,-9.58)(2024.122,-9.48)(2024.127,-9.32)(2024.134,-9.58)(2024.137,-10.08)(2024.141,-9.98)(2024.145,-8.90)(2024.152,-9.27)(2024.157,-9.98)(2024.162,-9.22)(2024.169,-9.27)(2024.176,-9.07)(2024.180,-9.78)(2024.185,-9.40)(2024.192,-9.65)(2024.198,-9.73)(2024.202,-8.22)(2024.208,-7.76)(2024.214,-7.71)(2024.218,-8.14)(2024.223,-7.64)(2024.227,-8.01)(2024.231,-8.14)(2024.237,-7.26)(2024.243,-6.88)(2024.250,-6.63)(2024.256,-6.80)(2024.262,-6.63)(2024.267,-6.88)(2024.272,-7.26)(2024.276,-6.63)(2024.280,-5.87)(2024.285,-5.62)(2024.289,-5.12)(2024.293,-4.28)(2024.296,-4.36)(2024.301,-5.37)(2024.307,-5.62)(2024.311,-6.30)(2024.315,-6.00)(2024.318,-6.50)(2024.323,-6.63)(2024.328,-5.62)(2024.332,-6.38)(2024.336,-7.13)(2024.342,-7.13)(2024.347,-6.88)(2024.353,-5.37)(2024.360,-5.24)(2024.366,-5.29)(2024.371,-4.86)(2024.375,-5.37)(2024.382,-5.12)(2024.389,-4.74)(2024.395,-4.74)(2024.401,-4.61)(2024.407,-4.99)(2024.413,-3.78)(2024.418,-3.68)(2024.424,-3.78)(2024.430,-2.27)(2024.435,-2.92)(2024.440,-1.97)(2024.446,-0.71)(2024.453,-0.58)(2024.459,0.18)(2024.465,0.93)(2024.471,0.55)(2024.478,0.00)(2024.484,1.81)(2024.488,2.32)(2024.494,2.95)(2024.499,3.07)(2024.501,4.21)(2024.506,1.69)(2024.511,1.18)(2024.517,1.56)(2024.522,0.30)(2024.528,1.44)(2024.537,1.44)(2024.542,2.82)(2024.546,3.70)(2024.551,3.45)(2024.557,3.12)(2024.563,4.54)(2024.567,4.96)(2024.572,4.64)(2024.580,4.84)(2024.584,7.61)(2024.593,7.56)(2024.599,5.09)(2024.604,3.20)(2024.611,3.07)(2024.616,2.57)(2024.621,3.12)(2024.625,3.07)(2024.632,2.12)(2024.636,3.96)(2024.642,5.64)(2024.645,4.13)(2024.652,4.21)(2024.657,4.59)(2024.662,6.80)(2024.668,6.60)(2024.673,6.35)
(2024.674,6.40)(2024.677,6.73)(2024.681,5.85)(2024.685,6.05)(2024.691,5.97)(2024.694,7.74)(2024.699,7.36)(2024.703,6.73)(2024.710,6.22)(2024.714,4.84)(2024.718,4.13)(2024.722,6.10)(2024.728,6.30)(2024.732,6.10)(2024.733,5.22)(2024.738,4.84)(2024.745,4.79)(2024.751,5.09)(2024.755,4.46)(2024.760,3.63)(2024.767,3.63)(2024.770,4.21)(2024.772,5.59)(2024.777,6.60)(2024.783,5.85)(2024.787,5.72)(2024.790,7.74)(2024.797,8.37)(2024.803,8.06)(2024.811,7.36)(2024.818,7.36)(2024.825,7.48)(2024.828,8.49)(2024.832,8.11)(2024.836,9.75)(2024.842,8.62)(2024.848,7.23)(2024.851,7.99)(2024.855,9.25)(2024.861,9.32)(2024.865,8.74)(2024.870,9.42)(2024.876,9.00)(2024.883,8.49)(2024.887,9.25)(2024.892,10.13)(2024.900,10.26)(2024.905,10.08)(2024.911,14.16)(2024.917,15.17)(2024.922,15.47)(2024.929,14.41)(2024.933,16.23)(2024.937,16.30)(2024.941,15.98)(2024.946,15.17)(2024.950,14.67)(2024.957,15.12)(2024.963,15.72)(2024.966,14.67)(2024.971,12.90)(2024.975,13.66)(2024.980,15.80)(2024.985,15.62)(2024.991,15.93)(2024.998,15.17)(2025.004,14.92)(2025.009,15.55)(2025.015,14.67)(2025.020,14.04)(2025.024,13.28)(2025.030,13.15)(2025.037,12.70)(2025.041,13.78)(2025.045,14.29)(2025.051,14.04)(2025.056,14.41)(2025.061,12.20)(2025.068,12.27)(2025.073,12.15)(2025.078,11.39)(2025.082,12.02)(2025.086,11.26)(2025.092,10.63)(2025.095,10.18)(2025.101,10.84)(2025.108,11.01)(2025.114,10.89)(2025.117,10.38)(2025.121,11.14)(2025.124,9.75)(2025.131,9.75)(2025.138,9.88)(2025.143,9.50)(2025.152,9.75)(2025.155,10.76)(2025.161,12.95)(2025.168,11.44)(2025.173,10.13)(2025.178,9.75)(2025.184,10.63)(2025.190,10.68)(2025.194,9.50)(2025.198,9.37)(2025.202,8.82)(2025.210,8.24)(2025.214,8.37)(2025.219,9.25)(2025.226,10.26)(2025.230,3.88)(2025.236,5.34)(2025.242,4.84)(2025.249,4.21)(2025.255,3.07)(2025.259,6.85)(2025.265,7.06)(2025.270,8.11)(2025.274,7.11)(2025.278,7.41)(2025.284,8.37)(2025.288,8.92)(2025.293,7.23)(2025.300,6.60)(2025.307,5.90)(2025.315,6.85)(2025.320,6.85)(2025.328,6.55)(2025.334,7.11)(2025.339,7.48)(2025.345,7.99)(2025.349,9.00)(2025.353,7.86)(2025.358,8.87)(2025.364,7.86)(2025.370,9.00)(2025.377,8.67)(2025.384,9.37)(2025.390,8.37)(2025.398,8.87)(2025.405,9.12)(2025.409,9.88)(2025.416,9.88)(2025.422,9.68)(2025.427,9.75)(2025.432,8.16)(2025.439,8.24)(2025.444,8.06)(2025.450,8.11)(2025.457,7.66)(2025.463,7.41)(2025.468,7.66)(2025.477,7.41)(2025.483,8.37)(2025.489,7.74)(2025.498,6.98)(2025.506,7.36)(2025.515,8.24)(2025.520,7.36)(2025.525,9.75)(2025.531,9.68)(2025.537,10.18)(2025.544,9.25)(2025.549,10.26)(2025.556,10.43)(2025.560,9.83)(2025.564,10.63)(2025.572,10.89)
(2025.577,10.13)(2025.582,10.63)(2025.586,9.93)(2025.592,8.87)(2025.596,8.37)(2025.600,8.16)(2025.607,8.24)(2025.612,8.24)(2025.615,7.41)(2025.621,7.91)(2025.627,7.99)(2025.631,8.24)(2025.634,9.12)(2025.638,8.74)(2025.644,8.42)(2025.650,8.37)(2025.654,8.74)(2025.659,8.49)(2025.664,9.00)(2025.671,9.50)(2025.676,9.07)(2025.682,9.12)(2025.689,9.58)(2025.693,9.25)(2025.698,8.49)(2025.705,8.24)(2025.710,7.86)(2025.714,7.81)(2025.720,8.57)(2025.725,8.82)(2025.729,7.99)(2025.734,9.12)(2025.740,8.92)(2025.749,8.92)(2025.754,9.68)(2025.760,9.42)(2025.766,9.50)(2025.770,10.43)(2025.776,12.45)(2025.781,11.77)(2025.784,11.52)(2025.788,12.02)(2025.792,12.02)(2025.795,10.63)(2025.801,10.33)(2025.807,10.26)(2025.810,10.38)(2025.815,10.51)(2025.821,10.18)(2025.827,10.00)(2025.833,10.18)(2025.839,9.93)(2025.845,9.75)(2025.850,9.50)(2025.853,9.00)(2025.859,8.92)(2025.863,8.37)(2025.867,8.82)(2025.872,8.42)(2025.879,8.49)(2025.884,8.37)(2025.888,9.12)(2025.892,9.75)(2025.898,9.93)(2025.904,9.88)(2025.908,9.75)(2025.915,9.88)(2025.920,9.37)(2025.926,9.17)(2025.931,12.15)(2025.936,11.89)(2025.939,11.19)(2025.943,12.40)(2025.948,11.14)(2025.954,11.19)(2025.960,11.44)(2025.964,12.78)(2025.969,13.46)(2025.974,14.16)(2025.977,14.72)(2025.981,13.96)(2025.987,14.16)(2025.993,14.41)(2025.997,14.72)(2026.001,13.28)(2026.006,11.77)(2026.013,11.89)(2026.019,11.89)(2026.025,11.14)(2026.030,11.39)(2026.037,12.02)(2026.043,11.52)(2026.049,11.44)(2026.055,11.26)(2026.060,10.38)(2026.065,10.51)(2026.071,10.38)(2026.076,9.68)(2026.082,9.88)(2026.089,9.68)(2026.094,9.37)(2026.100,8.49)(2026.107,8.62)(2026.112,8.67)(2026.116,8.32)(2026.120,9.00)(2026.126,9.25)(2026.135,9.50)(2026.140,8.49)(2026.144,8.24)(2026.150,8.06)(2026.154,7.74)(2026.159,7.86)(2026.167,8.24)(2026.173,8.62)(2026.177,9.63)(2026.182,8.87)(2026.187,8.11)(2026.193,7.16)(2026.199,8.67)(2026.205,8.37)(2026.211,7.86)(2026.218,7.74)(2026.222,6.98)(2026.228,6.85)(2026.233,6.22)(2026.239,5.97)(2026.245,6.05)(2026.251,5.90)(2026.258,5.90)(2026.266,5.64)(2026.272,7.66)(2026.277,6.35)(2026.285,5.90)(2026.289,8.62)(2026.295,9.00)(2026.302,8.49)(2026.308,8.37)(2026.314,8.82)(2026.320,8.37)(2026.326,8.06)(2026.333,8.11)(2026.341,8.24)(2026.344,7.41)(2026.349,8.11)(2026.355,7.66)(2026.361,7.86)(2026.365,7.99)(2026.367,10.00)(2026.372,10.63)(2026.378,9.50)(2026.385,9.42)(2026.391,9.88)(2026.397,9.83)(2026.401,9.93)(2026.405,10.84)(2026.409,11.01)(2026.413,11.39)
};
\end{axis}
\begin{scope}[x=0.5pt,y=-0.5pt,
  val/.style={font=\fontsize{9.2}{11}\selectfont, text=valgrey, anchor=base, inner sep=0pt},
  hdr/.style={font=\fontsize{9.4}{11}\selectfont\bfseries\itshape, text=maroon, anchor=base, inner sep=0pt},
  yr/.style={font=\fontsize{9.6}{11}\selectfont\bfseries\itshape, text=maroon, anchor=base west, inner sep=0pt},
  lab/.style={font=\fontsize{9.2}{11}\selectfont\itshape, text=valgrey, anchor=base west, inner sep=0pt}]
\fill[lightrow] (3,432) rectangle (1558,471);
\foreach \i in {0,...,14} {
  \pgfmathsetmacro\ya{471+29.47*\i}
  \pgfmathsetmacro\yz{471+29.47*(\i+1)}
  \ifodd\i
    \fill[greyrow] (3,\ya) rectangle (1558,\yz);
  \else
    \fill[lightrow] (3,\ya) rectangle (1558,\yz);
  \fi
  \draw[sepc, line width=0.7pt] (3,\yz) -- (1558,\yz);
}
\foreach \x in {155,250,345,439,535,630,725,815,912,1003,1098,1200,1295,1422} {
  \draw[white, line width=0.55pt] (\x,432) -- (\x,913);
}
\draw[maroon, line width=0.45pt] (155,471) -- (155,913);
\draw[maroon!85!white, line width=0.7pt] (3,471) -- (1558,471);
\foreach \h [count=\c from 0] in {jan,fev,mar,abr,mai,jun,jul,ago,set,out,nov,dez,YTD,Início} {
  \pgfmathsetmacro\xx{\cols[\c]}
  \node[hdr] at (\xx,453.5) {\h};
}
\yearrow{0}{2022}
\datarow{1}{Fundo}{{-10,02\%},{-4,05\%},{-8,80\%},{0,55\%},{-4,53\%},{6,56\%},{0,98\%},{-0,26\%},{0,23\%},{-2,97\%},{3,77\%},{1,38\%},{-16,99\%},{-11,08\%}}
\datarow{2}{Excesso}{{-6,02\%},{0,02\%},{-0,99\%},{-3,28\%},{-0,66\%},{-4,21\%},{1,93\%},{-0,08\%},{-4,16\%},{-0,20\%},{3,07\%},{2,82\%},{-10,49\%},{-7,32\%}}
\yearrow{3}{2023}
\datarow{4}{Fundo}{{-1,30\%},{2,02\%},{-2,71\%},{-1,14\%},{1,11\%},{-4,39\%},{-0,43\%},{3,57\%},{0,38\%},{0,04\%},{0,91\%},{2,14\%},{-0,08\%},{-11,15\%}}
\datarow{5}{Excesso}{{0,97\%},{-0,11\%},{-0,26\%},{0,43\%},{-0,79\%},{1,04\%},{1,18\%},{-0,24\%},{-1,36\%},{-0,96\%},{3,32\%},{4,05\%},{7,14\%},{-0,45\%}}
\yearrow{6}{2024}
\datarow{7}{Fundo}{{0,77\%},{1,39\%},{2,19\%},{1,79\%},{2,04\%},{6,87\%},{2,07\%},{1,66\%},{-1,96\%},{3,23\%},{5,80\%},{0,60\%},{29,55\%},{15,10\%}}
\datarow{8}{Excesso}{{-1,55\%},{0,79\%},{1,93\%},{-1,73\%},{0,69\%},{0,82\%},{0,21\%},{1,76\%},{1,72\%},{-2,82\%},{1,04\%},{-1,69\%},{1,64\%},{0,89\%}}
\yearrow{9}{2025}
\datarow{10}{Fundo}{{-3,40\%},{1,63\%},{-7,52\%},{2,19\%},{2,98\%},{-2,76\%},{3,36\%},{-1,57\%},{0,10\%},{1,20\%},{-0,51\%},{3,19\%},{-1,69\%},{13,16\%}}
\datarow{11}{Excesso}{{2,44\%},{1,31\%},{-5,69\%},{3,61\%},{2,13\%},{1,65\%},{0,71\%},{1,57\%},{2,09\%},{-0,04\%},{0,43\%},{0,03\%},{9,45\%},{11,67\%}}
\yearrow{12}{2026}
\datarow{13}{Fundo}{{-2,98\%},{-1,82\%},{-1,82\%},{2,04\%},{3,09\%},{},{},{},{},{},{},{},{-1,62\%},{11,32\%}}
\datarow{14}{Excesso}{{1,97\%},{-0,28\%},{-3,18\%},{6,47\%},{1,72\%},{},{},{},{},{},{},{},{6,47\%},{18,05\%}}
\end{scope}
\pgfresetboundingbox
\path[use as bounding box] (0,0) rectangle (784pt,-456.5pt);
\end{tikzpicture}
\end{document}
